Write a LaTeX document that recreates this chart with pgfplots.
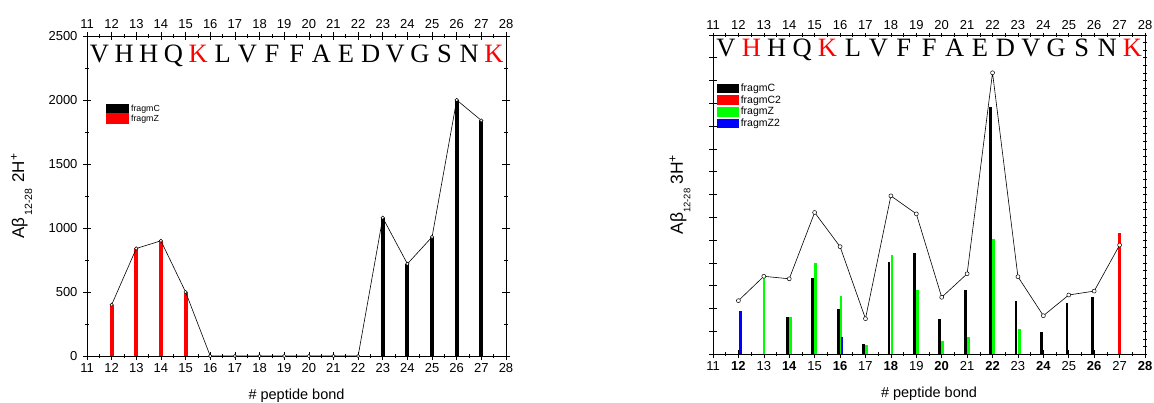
\documentclass[border=0pt]{standalone}
\usepackage{fontspec}
\setmainfont{Liberation Sans}
\newfontfamily\seqfont{Liberation Serif}
\usepackage{pgfplots}
\pgfplotsset{compat=1.18}
\definecolor{fred}{RGB}{255,0,0}
\definecolor{fgreen}{RGB}{0,255,0}
\definecolor{fblue}{RGB}{0,0,255}

% one slot per residue, width set before use
\newlength\slotw
\newcommand\res[2][black]{\makebox[\slotw][c]{\color{#1}#2}}

\pgfplotsset{
  frame/.style={
    scale only axis, anchor=south west,
    xmin=11, xmax=28, xtick={11,...,28}, minor x tick num=1,
    tick align=center, major tick length=8pt, minor tick length=4pt,
    every tick/.style={black, line width=0.6pt},
    axis line style={line width=0.8pt},
    tick label style={font=\fontsize{13}{14}\selectfont},
    yticklabel style={xshift=-2pt},
    /pgf/number format/assume math mode=true,
    /pgf/number format/1000 sep={},
    clip=false,
  },
  barleg/.style={legend image code/.code={\fill[##1] (0pt,-3.5pt) rectangle (19pt,3.5pt);}},
  peak/.style={black, line width=0.6pt, mark=*, mark options={fill=white, line width=0.5pt}, forget plot},
}

\begin{document}
\begin{tikzpicture}

% ---------- left: 2H+ ----------
\begin{axis}[frame, at={(87pt,47pt)}, width=419pt, height=320pt,
  ymin=0, ymax=2500, ytick={0,500,...,2500}, minor y tick num=1,
  xtick pos=bottom, ytick pos=both, yticklabel pos=left,
  xlabel={\# peptide bond},
  xlabel style={font=\fontsize{14.5}{15}\selectfont, at={(axis description cs:0.5,0)}, anchor=north, yshift=-29pt},
  ylabel={Aβ\kern2pt\raisebox{-8pt}{\fontsize{10.5}{10}\selectfont 12-28}\kern6pt 2H\textsuperscript{+}},
  ylabel style={font=\fontsize{17}{18}\selectfont, at={(axis description cs:-0.156,0.5)}, anchor=center},
  legend style={at={(axis description cs:0.045,0.79)}, anchor=north west, draw=none, fill=none,
    font=\fontsize{8.8}{8.8}\selectfont, inner sep=0pt, row sep=-2.5pt},
  legend cell align=left,
]
\addplot[ycomb, black, line width=4pt, barleg] coordinates {
  (23,1080) (24,720) (25,930) (26,2000) (27,1840)};
\addlegendentry{fragmC}
\addplot[ycomb, fred, line width=4pt, barleg] coordinates {
  (12,400) (13,840) (14,900) (15,500)};
\addlegendentry{fragmZ}
\addplot[peak, mark size=1.7pt] coordinates {
  (12,400) (13,840) (14,900) (15,500) (16,0) (17,0) (18,0) (19,0) (20,0)
  (21,0) (22,0) (23,1080) (24,720) (25,930) (26,2000) (27,1840)};
\node[anchor=west, inner sep=0pt] at (axis description cs:0,0.9375) {%
  \setlength\slotw{24.647pt}\seqfont\fontsize{26.5}{26}\selectfont
  \res{V}\res{H}\res{H}\res{Q}\res[fred]{K}\res{L}\res{V}\res{F}\res{F}%
  \res{A}\res{E}\res{D}\res{V}\res{G}\res{S}\res{N}\res[fred]{K}};
\end{axis}
\begin{axis}[frame, at={(87pt,47pt)}, width=419pt, height=320pt,
  ymin=0, ymax=2500, axis x line*=top, axis y line=none]
\end{axis}

% ---------- right: 3H+ ----------
\begin{axis}[frame, at={(713pt,49pt)}, width=432pt, height=319pt,
  ymin=0, ymax=14, ytick={0,...,14}, yticklabels={},
  xtick pos=bottom, ytick pos=left,
  xticklabels={11,\textbf{12},13,\textbf{14},15,\textbf{16},17,\textbf{18},19,
    \textbf{20},21,\textbf{22},23,\textbf{24},25,\textbf{26},27,\textbf{28}},
  xlabel={\# peptide bond},
  xlabel style={font=\fontsize{14.5}{15}\selectfont, at={(axis description cs:0.5,0)}, anchor=north, yshift=-29pt},
  ylabel={Aβ\raisebox{-7.5pt}{\fontsize{9.5}{9}\selectfont 12-28}\kern4pt 3H\textsuperscript{+}},
  ylabel style={font=\fontsize{17.5}{18}\selectfont, at={(axis description cs:-0.0764,0.5)}, anchor=center},
  legend style={at={(axis description cs:0.009,0.853)}, anchor=north west, draw=none, fill=none,
    font=\fontsize{10.5}{10.5}\selectfont, inner sep=0pt, row sep=-1.5pt},
  legend cell align=left,
]
\addplot[ycomb, black, line width=2.7pt, barleg] coordinates {
  (13.925,1.62) (14.925,3.33) (15.925,1.99) (16.925,0.44) (17.925,4.02)
  (18.925,4.43) (19.925,1.55) (20.93,2.79) (21.925,10.86) (22.925,2.31)
  (23.93,0.98) (24.93,2.25) (25.93,2.50)};
\addlegendentry{fragmC}
\addplot[ycomb, fred, line width=2.7pt, barleg] coordinates {(27,5.29)};
\addlegendentry{fragmC2}
\addplot[ycomb, fgreen, line width=2.7pt, barleg] coordinates {
  (13.01,3.33) (14.045,1.63) (15.045,4.00) (16.035,2.56) (17.04,0.38)
  (18.04,4.33) (19.035,2.82) (20.04,0.55) (21.05,0.76) (22.04,5.04) (23.05,1.08)};
\addlegendentry{fragmZ}
\addplot[ycomb, fblue, line width=2.7pt, barleg] coordinates {(12.08,1.90) (16.08,0.76)};
\addlegendentry{fragmZ2}
\addplot[peak, mark size=2pt] coordinates {
  (12,2.34) (13,3.41) (14,3.30) (15,6.21) (16,4.71) (17,1.55) (18,6.94) (19,6.15)
  (20,2.49) (21,3.52) (22,12.34) (23,3.39) (24,1.68) (25,2.59) (26,2.76) (27,4.78)};
\node[anchor=west, inner sep=0pt] at (axis description cs:0,0.953) {%
  \setlength\slotw{25.412pt}\seqfont\fontsize{26.5}{26}\selectfont
  \res{V}\res[fred]{H}\res{H}\res{Q}\res[fred]{K}\res{L}\res{V}\res{F}\res{F}%
  \res{A}\res{E}\res{D}\res{V}\res{G}\res{S}\res{N}\res[fred]{K}};
\end{axis}
\begin{axis}[frame, at={(713pt,49pt)}, width=432pt, height=319pt,
  ymin=0, ymax=14, ytick distance=0.33333, yticklabels={},
  major tick length=4pt,
  axis x line*=top, axis y line*=right]
\end{axis}

\pgfresetboundingbox
\path[use as bounding box] (0,0) rectangle (1154pt,403pt);
\end{tikzpicture}
\end{document}
